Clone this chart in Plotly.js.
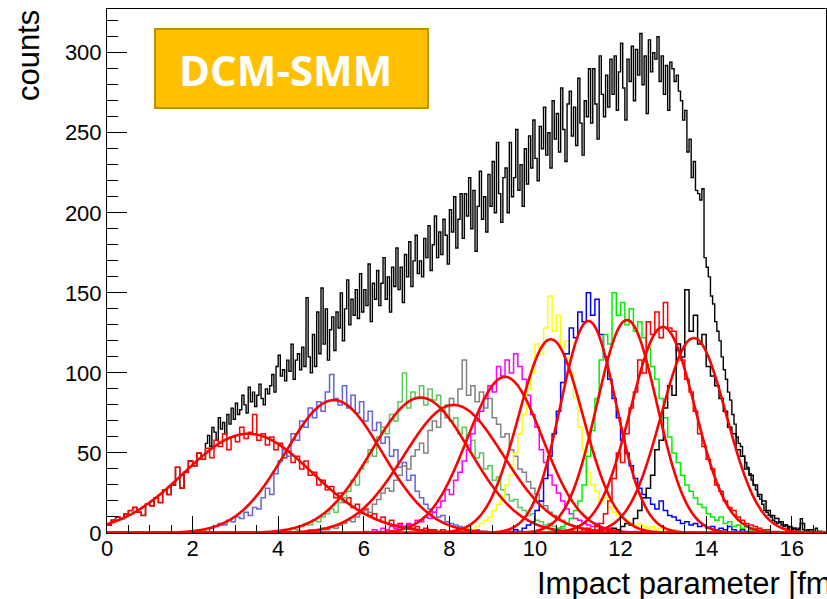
<!DOCTYPE html>
<html>
<head>
<meta charset="utf-8">
<script src="https://cdn.plot.ly/plotly-3.0.1.min.js"></script>
<style>
  html, body { margin: 0; padding: 0; background: #ffffff; }
  #chart { width: 827px; height: 599px; }
</style>
</head>
<body>
<div id="chart"></div>
<script>
// ---- binning ----
const totalBinStart = 0.0;
const totalBinWidth = 0.05;
const classBinWidth = 0.1;

// ---- all events: counts per 0.05 fm bin, from b = 0 ----
const totalCounts = [
  5,5,8,8,10,10,9,9,12,12,14,14,16,16,13,13,11,11,18,18,17,17,22,22,19,19,27,27,24,24,30,30,41,41,28,28,38,38,45,45,42,42,50,50,46,46,
  56,61,54,66,63,58,72,65,69,62,
  74,68,78,71,81,74,77,86,80,75,
  91,82,88,79,86,93,84,80,90,87,
  92,99,88,104,111,98,102,95,108,101,
  118,96,108,112,102,116,104,147,110,100,
  124,104,138,112,153,118,140,108,127,135,
  114,138,128,150,120,140,158,130,146,136,
  152,134,162,138,152,142,168,132,156,146,
  164,142,156,172,146,160,138,166,154,178,
  152,166,144,174,160,182,154,170,186,162,
  170,160,184,172,192,164,180,198,172,188,
  174,196,186,168,202,188,210,178,196,212,
  184,212,198,222,190,214,176,204,226,196,
  210,188,224,204,232,200,244,212,194,222,
  228,200,244,210,222,252,214,230,204,240,
  218,248,228,258,234,220,254,240,266,236,
  250,228,270,246,262,238,278,252,232,268,
  276,248,266,242,284,256,236,270,260,290,
  256,290,268,246,298,274,260,286,266,296,
  274,298,264,288,306,278,258,296,282,304,
  270,302,286,312,280,298,262,308,288,300,
  296,310,282,298,274,292,264,294,290,282,
  286,276,270,258,264,238,246,222,232,214,
  212,208,215,172,166,160,148,143,132,126,
  120,110,102,96,88,83,74,68,60,56,
  54,48,44,41,37,33,30,27,23,21,
  18,14,13,11,10,8,7,6,7,5,
  4,5,3,4,2,3,2,3,9,2,
  1,2,1,0,1,3,0,1,0,0
];

// ---- event classes: counts per 0.1 fm bin ----
const class1Start = 0.0;
const class1Counts = [5,8,10,9,12,14,16,13,11,18,17,22,19,27,24,30,41,28,38,45,42,50,46,53,47,58,54,62,52,60,
  57,66,59,63,74,58,62,55,60,52,56,47,51,44,48,40,45,36,38,30,33,27,29,22,25,19,22,16,18,13,
  15,11,12,8,10,6,8,5,6,4,5,3,4,2,3,2,2,1,2,1,1,0,1,0,0];

const class2Start = 2.0;
const class2Counts = [1,0,2,1,3,4,6,5,8,7,10,9,13,11,16,15,22,28,24,37,45,52,48,62,58,70,66,78,72,82,
  76,88,99,84,80,92,78,86,75,82,70,76,64,69,56,60,48,52,41,44,33,36,26,22,18,15,13,10,11,7,
  6,5,4,3,4,2,2,1,1,0];

const class3Start = 4.0;
const class3Counts = [1,2,1,3,2,4,6,5,8,7,10,12,15,13,19,22,26,33,30,40,44,52,48,60,66,62,74,70,82,100,
  78,88,84,92,80,90,83,86,76,80,70,72,62,66,55,58,47,50,40,42,33,35,27,24,20,21,16,14,11,12,
  8,7,5,6,4,3,3,2,2,1,1,0];

const class4Start = 4.5;
const class4Counts = [1,0,2,1,2,3,2,4,3,5,6,8,7,10,12,14,13,18,21,25,28,26,33,36,42,40,48,52,56,50,
  64,70,66,76,72,84,80,90,108,86,92,82,88,78,84,72,68,60,62,52,48,40,38,32,28,24,20,17,13,11,
  9,8,6,5,4,3,3,2,2,1,1,0];

const class5Start = 6.0;
const class5Counts = [1,0,2,1,3,2,4,3,5,4,6,5,8,7,10,9,13,16,20,27,24,33,38,45,52,62,70,76,84,92,
  88,104,98,108,100,112,104,96,86,74,66,52,44,36,30,25,20,15,12,9,8,6,5,4,6,3,2,3,1,2,
  1,1,0,1,0];

const class6Start = 8.0;
const class6Counts = [1,2,1,2,3,2,4,6,8,10,14,18,22,30,36,50,62,74,90,100,118,112,128,148,126,136,116,120,100,84,
  66,52,38,30,26,20,22,16,13,11,9,8,6,5,6,4,3,4,2,3,2,1,2,1,0];

const class7Start = 9.4;
const class7Counts = [1,2,1,3,5,7,14,20,34,48,62,76,94,112,128,122,138,132,150,136,146,124,110,96,84,72,58,50,42,34,
  28,24,22,18,15,20,14,11,10,8,6,7,5,6,4,5,3,4,2,3,2,4,2,1,2,1,1,0];

const class8Start = 10.3;
const class8Counts = [1,2,3,4,6,9,14,20,30,48,64,84,108,124,118,150,136,144,130,140,126,132,122,116,104,96,84,72,60,50,
  44,36,30,26,22,18,16,12,10,8,10,6,7,4,5,3,4,2,3,1,2,1,0];

const class9Start = 11.0;
const class9Counts = [1,2,3,2,4,6,12,20,34,50,44,62,78,88,108,100,132,124,138,122,144,128,126,114,108,96,88,76,62,54,
  46,40,30,26,20,16,14,10,8,6,5,4,3,2,2,1,1,0];

const class10Start = 11.5;
const class10Counts = [1,0,2,3,2,4,6,5,9,14,22,28,36,52,58,78,92,86,118,110,152,126,136,118,124,104,98,92,84,76,
  66,62,52,48,40,36,30,24,20,14,11,9,7,5,4,3,2,6,1,2,0,1,0,0];

const classStarts = [class1Start, class2Start, class3Start, class4Start, class5Start,
                     class6Start, class7Start, class8Start, class9Start, class10Start];
const classCounts = [class1Counts, class2Counts, class3Counts, class4Counts, class5Counts,
                     class6Counts, class7Counts, class8Counts, class9Counts, class10Counts];
const classColors = ['#ff0000', '#6464dc', '#5ac85a', '#828282', '#ff00ff',
                     '#ffff00', '#0000ff', '#00f000', '#ff0000', '#000000'];

// ---- Gaussian fit parameters of each class ----
const fitAmplitude = [62, 83, 84.6, 80, 97.5, 121, 132.4, 133, 128.7, 121.8];
const fitMean      = [3.3, 5.3, 7.33, 8.1, 9.3, 10.37, 11.25, 12.15, 12.99, 13.71];
const fitSigma     = [1.5, 1.13, 1.15, 1.16, 0.88, 0.75, 0.65, 0.7, 0.75, 0.76];

// ---- axis settings ----
const xMax = 16.8;
const yMax = 327.3;

// histogram outline as a step line: left bin edges, closed at the last right edge
function stepTrace(start, width, counts, color, lw) {
  const xs = counts.map((_, i) => start + i * width);
  const ys = counts.slice();
  xs.push(start + counts.length * width);
  ys.push(counts[counts.length - 1]);
  return {
    type: 'scatter', mode: 'lines', x: xs, y: ys,
    line: { shape: 'hv', color: color, width: lw },
    hoverinfo: 'skip'
  };
}

const traces = [];
traces.push(stepTrace(totalBinStart, totalBinWidth, totalCounts, '#000000', 1.4));
for (let k = 0; k < classCounts.length; k++) {
  traces.push(stepTrace(classStarts[k], classBinWidth, classCounts[k], classColors[k], 1.5));
}

// fitted Gaussians, drawn over the full axis range
for (let k = 0; k < fitMean.length; k++) {
  const xs = [], ys = [];
  for (let i = 0; i <= 840; i++) {
    const b = i * 0.02;
    xs.push(b);
    const z = (b - fitMean[k]) / fitSigma[k];
    ys.push(fitAmplitude[k] * Math.exp(-0.5 * z * z));
  }
  traces.push({
    type: 'scatter', mode: 'lines', x: xs, y: ys,
    line: { color: '#ff0000', width: 2.6, shape: 'spline' },
    hoverinfo: 'skip'
  });
}

const layout = {
  width: 827, height: 599,
  margin: { l: 107, r: 1, t: 9, b: 66, pad: 0 },
  paper_bgcolor: '#ffffff', plot_bgcolor: '#ffffff',
  showlegend: false,
  font: { family: '"Liberation Sans", Arial, sans-serif', color: '#000000' },
  xaxis: {
    range: [0, xMax], showgrid: false, zeroline: false,
    showline: true, linecolor: '#000000', linewidth: 1, mirror: true,
    ticks: 'inside', ticklen: 17, tickwidth: 1, tickcolor: '#000000',
    tick0: 0, dtick: 2, tickfont: { size: 22 }, ticklabelstandoff: -4,
    minor: { dtick: 0.5, ticks: 'inside', ticklen: 8, tickwidth: 1, tickcolor: '#000000' }
  },
  yaxis: {
    range: [0, yMax], showgrid: false, zeroline: false,
    showline: true, linecolor: '#000000', linewidth: 1, mirror: true,
    ticks: 'inside', ticklen: 20, tickwidth: 1, tickcolor: '#000000',
    tick0: 0, dtick: 50, tickfont: { size: 22 }, ticklabelstandoff: 0,
    minor: { dtick: 10, ticks: 'inside', ticklen: 11, tickwidth: 1, tickcolor: '#000000' }
  },
  shapes: [{
    type: 'rect', xref: 'paper', yref: 'paper',
    x0: 0.0668, x1: 0.4465, y0: 0.811, y1: 0.9618,
    fillcolor: '#ffc000', line: { color: '#bf9000', width: 2 }, layer: 'above'
  }],
  annotations: [
    {
      xref: 'paper', yref: 'paper', x: 0.2476, y: 0.884,
      xanchor: 'center', yanchor: 'middle', showarrow: false,
      text: '<b>DCM-SMM</b>',
      font: { family: '"Open Sans", "Noto Sans", sans-serif', size: 42, color: '#ffffff' }
    },
    {
      xref: 'paper', yref: 'paper', x: -0.11, y: 0.912,
      xanchor: 'center', yanchor: 'middle', showarrow: false, textangle: -90,
      text: 'counts', font: { size: 31, color: '#000000' }
    },
    {
      xref: 'paper', yref: 'paper', x: 0.5953, y: -0.0973,
      xanchor: 'left', yanchor: 'middle', showarrow: false,
      text: 'Impact parameter [fm]', font: { size: 31, color: '#000000' }
    }
  ]
};

Plotly.newPlot('chart', traces, layout, { staticPlot: true, displayModeBar: false });
</script>
</body>
</html>
